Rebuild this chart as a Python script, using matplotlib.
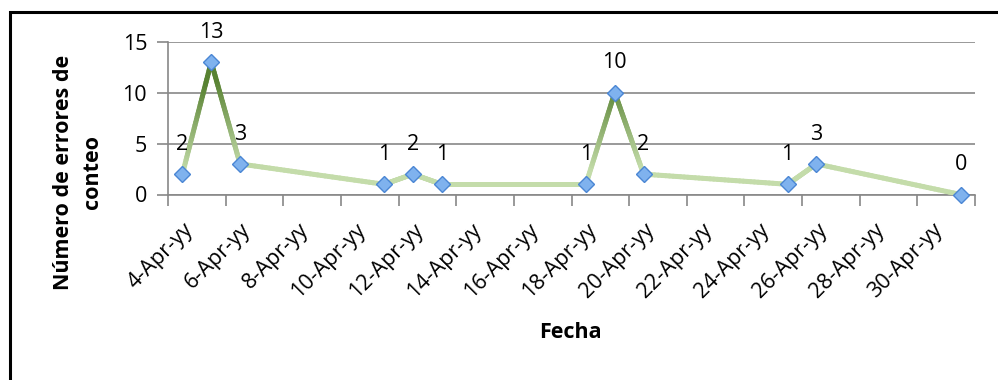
import numpy as np
import matplotlib.pyplot as plt
from matplotlib.collections import LineCollection
from matplotlib.patches import Rectangle
import datetime as dt

plt.rcParams['font.family'] = ['Open Sans', 'DejaVu Sans']

# fechas de conteo y errores encontrados
fechas = [dt.date(2013, 4, 4), dt.date(2013, 4, 5), dt.date(2013, 4, 6),
          dt.date(2013, 4, 11), dt.date(2013, 4, 12), dt.date(2013, 4, 13),
          dt.date(2013, 4, 18), dt.date(2013, 4, 19), dt.date(2013, 4, 20),
          dt.date(2013, 4, 25), dt.date(2013, 4, 26), dt.date(2013, 5, 1)]
errores = [2, 13, 3, 1, 2, 1, 1, 10, 2, 1, 3, 0]

inicio = dt.date(2013, 4, 4)
dias_eje = list(range(4, 31, 2))
etiquetas = ["%d-Apr-yy" % d for d in dias_eje]

x = np.array([(f - inicio).days for f in fechas], float)
y = np.array(errores, float)

fs = 15.5

fig = plt.figure(figsize=(9.98, 3.8), dpi=100)
ax = fig.add_axes([168/998, 1-194.5/380, (975-168)/998, (194.5-41.7)/380])

# borde del grafico
fig.patches.append(Rectangle((10/998, -0.1), 1.2, 1-11.5/380+0.1, transform=fig.transFigure,
                             fill=False, edgecolor='black', linewidth=2.2))

# linea con degradado verde segun la altura
xs, ys = [], []
for i in range(len(x)-1):
    t = np.linspace(0, 1, 40)
    xs.append(x[i] + (x[i+1]-x[i])*t)
    ys.append(y[i] + (y[i+1]-y[i])*t)
xs = np.concatenate(xs)
ys = np.concatenate(ys)
pts = np.column_stack([xs, ys]).reshape(-1, 1, 2)
segs = np.concatenate([pts[:-1], pts[1:]], axis=1)
claro = np.array([196, 220, 170])/255
oscuro = np.array([88, 130, 50])/255
ymed = (ys[:-1] + ys[1:])/2
k = np.clip((ymed-2.5)/8.5, 0, 1)[:, None]
cols = claro*(1-k) + oscuro*k
lc = LineCollection(segs, colors=cols, linewidths=3.6, capstyle='round', joinstyle='round', zorder=3)
ax.add_collection(lc)

ax.plot(x, y, linestyle='none', marker='D', markersize=8.5, markerfacecolor='#7FB2EE',
        markeredgecolor='#4A86D4', markeredgewidth=1, zorder=4, clip_on=False)

for xi, yi in zip(x, y):
    ax.annotate("%d" % yi, (xi, yi), xytext=(0, 21.5), textcoords='offset points',
                ha='center', va='center', fontsize=fs, zorder=5)

ax.set_xlim(-0.5, 27.5)
ax.set_ylim(0, 15)
ax.set_yticks([0, 5, 10, 15])
ax.tick_params(axis='y', labelsize=fs, length=8, color='#888888', width=1.2, pad=7)
ax.yaxis.grid(True, color='#888888', linewidth=1.2)
ax.set_axisbelow(True)

ax.set_xticks(np.arange(-0.5, 28, 2))
ax.set_xticklabels([])
ax.tick_params(axis='x', which='major', length=8, color='#888888', width=1.2)
ax.set_xticks([d-4 for d in dias_eje], minor=True)
ax.set_xticklabels(etiquetas, minor=True, rotation=45, ha='right', rotation_mode='anchor',
                   fontsize=fs)
ax.tick_params(axis='x', which='minor', length=0, pad=18)

for lado in ['top', 'right']:
    ax.spines[lado].set_visible(False)
ax.spines['left'].set_color('#888888')
ax.spines['bottom'].set_color('#888888')
ax.spines['left'].set_linewidth(1.2)
ax.spines['bottom'].set_linewidth(1.2)

fig.text(570/998, 1-333/380, "Fecha", ha='center', va='center', fontsize=fs, fontweight='bold')
fig.text(78/998, 1-172/380, "Número de errores de\nconteo", ha='center', va='center',
         rotation=90, fontsize=fs, fontweight='bold', linespacing=1.55)

plt.savefig("out.png", dpi=100)
